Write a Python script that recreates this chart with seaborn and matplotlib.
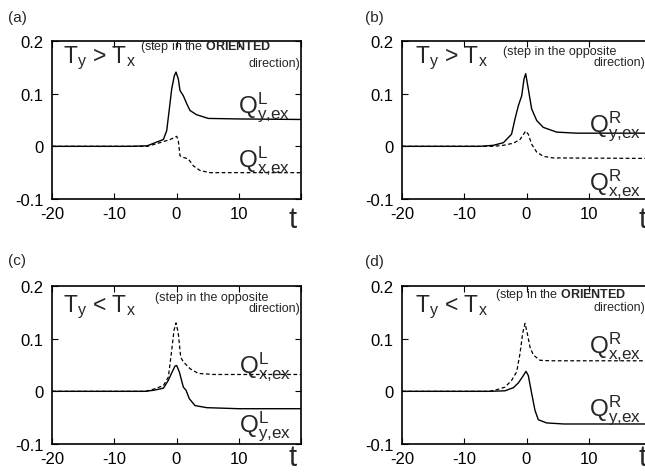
import matplotlib
matplotlib.use('Agg')
import matplotlib.pyplot as plt
import seaborn as sns

# ---- panel (a): T_y > T_x, step in the ORIENTED direction ----
t_a_y = [-20, -7.5, -4.7, -3.2, -2.1, -1.57, -1.15, -0.77, -0.35, -0.08, 0.29, 0.56, 1.1, 1.64, 2.17, 3.24, 5.1, 10, 20]
q_a_y = [0, 0, 0.001, 0.008, 0.013, 0.030, 0.071, 0.109, 0.134, 0.141, 0.128, 0.106, 0.096, 0.081, 0.068, 0.060, 0.053, 0.052, 0.051]
t_a_x = [-20, -4.7, -3.2, -2.1, -1.0, 0.03, 0.29, 0.56, 1.1, 1.9, 2.7, 3.8, 5.4, 20]
q_a_x = [0, 0, 0.005, 0.009, 0.013, 0.019, 0.011, -0.018, -0.021, -0.024, -0.037, -0.046, -0.050, -0.050]

# ---- panel (b): T_y > T_x, step in the opposite direction ----
t_b_y = [-20, -7.5, -5.3, -3.7, -2.4, -1.85, -1.31, -0.77, -0.4, -0.13, 0.29, 0.83, 1.64, 2.7, 4.85, 8, 20]
q_b_y = [0, 0, 0.002, 0.007, 0.023, 0.052, 0.077, 0.096, 0.128, 0.138, 0.109, 0.071, 0.049, 0.036, 0.027, 0.025, 0.025]
t_b_x = [-20, -5.3, -3.7, -2.1, -1.04, -0.13, 0.29, 0.83, 1.64, 2.7, 4.3, 20]
q_b_x = [0, 0, 0.002, 0.006, 0.013, 0.029, 0.023, 0.004, -0.011, -0.019, -0.022, -0.023]

# ---- panel (c): T_y < T_x, step in the opposite direction ----
t_c_y = [-20, -5, -3.7, -2.1, -1.31, -0.77, -0.24, 0.03, 0.45, 1.1, 1.53, 2.06, 2.97, 4.85, 10, 20]
q_c_y = [0, 0, 0.002, 0.006, 0.021, 0.035, 0.048, 0.049, 0.037, 0.008, 0.002, -0.014, -0.027, -0.031, -0.033, -0.033]
t_c_x = [-20, -5, -3.7, -2.1, -1.31, -0.77, -0.4, -0.08, 0.29, 0.67, 1.1, 2.17, 3.5, 6, 20]
q_c_x = [0, 0, 0.004, 0.011, 0.027, 0.078, 0.116, 0.130, 0.110, 0.065, 0.056, 0.043, 0.034, 0.032, 0.032]

# ---- panel (d): T_y < T_x, step in the ORIENTED direction ----
t_d_y = [-20, -6, -3.45, -2.1, -1.31, -0.5, -0.08, 0.29, 0.83, 1.36, 1.9, 3.24, 6, 20]
q_d_y = [0, 0, 0.001, 0.007, 0.016, 0.030, 0.038, 0.030, -0.004, -0.036, -0.054, -0.060, -0.062, -0.062]
t_d_x = [-20, -6, -4.8, -3.45, -2.38, -1.58, -1.04, -0.62, -0.24, 0.13, 0.56, 1.1, 2.17, 3.8, 20]
q_d_x = [0, 0, 0.003, 0.008, 0.021, 0.037, 0.072, 0.110, 0.129, 0.110, 0.084, 0.069, 0.059, 0.058, 0.058]

xticks = [-20, -10, 0, 10, 20]
xticklabels = ['-20', '-10', '0', '10', '']
yticks = [-0.1, 0, 0.1, 0.2]
yticklabels = ['-0.1', '0', '0.1', '0.2']

sns.set_style('ticks')
plt.rcParams['font.family'] = ['Liberation Sans', 'DejaVu Sans']
plt.rcParams['mathtext.fontset'] = 'custom'
plt.rcParams['mathtext.rm'] = 'Liberation Sans'
plt.rcParams['mathtext.it'] = 'Liberation Sans'
plt.rcParams['mathtext.bf'] = 'Liberation Sans:bold'
plt.rcParams['mathtext.default'] = 'regular'
plt.rcParams['axes.unicode_minus'] = False

W, H = 645, 477
fig = plt.figure(figsize=(W / 100, H / 100), dpi=100)


def px_axes(left, top, right, bottom):
    return fig.add_axes([left / W, 1 - bottom / H, (right - left) / W, (bottom - top) / H])


def draw_panel(ax, ty, qy, tx, qx, t_y):
    sns.lineplot(x=ty, y=qy, ax=ax, color='black', lw=1.0, estimator=None, sort=False)
    sns.lineplot(x=tx, y=qx, ax=ax, color='black', lw=0.9, linestyle=(0, (3, 2)),
                 estimator=None, sort=False)
    ax.set_xlim(-20, 20)
    ax.set_ylim(-0.1, 0.2)
    ax.set_xticks(xticks)
    ax.set_xticklabels(xticklabels)
    ax.set_yticks(yticks)
    ax.set_yticklabels(yticklabels)
    ax.tick_params(direction='in', length=4, width=0.8, labelsize=12, pad=5,
                   top=True, right=True, colors='black')
    ax.tick_params(axis='y', pad=6)
    for s in ax.spines.values():
        s.set_linewidth(1.2)
        s.set_color('black')
    ax.set_xlabel('')
    ax.set_ylabel('')
    ax.text(18.0, t_y, 't', transform=ax.get_xaxis_transform(), fontsize=21,
            ha='left', va='baseline')


ax_a = px_axes(52, 42, 301, 200)
ax_b = px_axes(402, 42, 651, 200)
ax_c = px_axes(52, 287, 301, 445)
ax_d = px_axes(402, 287, 651, 445)

draw_panel(ax_a, t_a_y, q_a_y, t_a_x, q_a_x, -0.175)
draw_panel(ax_b, t_b_y, q_b_y, t_b_x, q_b_x, -0.175)
draw_panel(ax_c, t_c_y, q_c_y, t_c_x, q_c_x, -0.135)
draw_panel(ax_d, t_d_y, q_d_y, t_d_x, q_d_x, -0.135)

big = 16.5
small = 9
qsize = 17.5

# (a)
ax_a.text(-18.3, 0.160, 'T$_y$ > T$_x$', fontsize=big, va='baseline')
ax_a.text(-5.9, 0.185, r'(step in the $\mathbf{ORIENTED}$', fontsize=small, va='baseline')
ax_a.text(19.9, 0.152, 'direction)', fontsize=small, va='baseline', ha='right')
ax_a.text(9.8, 0.065, r'$Q^{L}_{y{,}ex}$', fontsize=qsize, va='baseline')
ax_a.text(9.8, -0.038, r'$Q^{L}_{x{,}ex}$', fontsize=qsize, va='baseline')

# (b)
ax_b.text(-17.9, 0.160, 'T$_y$ > T$_x$', fontsize=big, va='baseline')
ax_b.text(-3.8, 0.176, '(step in the opposite', fontsize=small, va='baseline')
ax_b.text(10.7, 0.155, 'direction)', fontsize=small, va='baseline')
ax_b.text(10.0, 0.028, r'$Q^{R}_{y{,}ex}$', fontsize=qsize, va='baseline')
ax_b.text(10.0, -0.082, r'$Q^{R}_{x{,}ex}$', fontsize=qsize, va='baseline')

# (c)
ax_c.text(-18.3, 0.152, 'T$_y$ < T$_x$', fontsize=big, va='baseline')
ax_c.text(-3.45, 0.174, '(step in the opposite', fontsize=small, va='baseline')
ax_c.text(19.9, 0.153, 'direction)', fontsize=small, va='baseline', ha='right')
ax_c.text(10.0, 0.036, r'$Q^{L}_{x{,}ex}$', fontsize=qsize, va='baseline')
ax_c.text(10.0, -0.076, r'$Q^{L}_{y{,}ex}$', fontsize=qsize, va='baseline')

# (d)
ax_d.text(-17.9, 0.152, 'T$_y$ < T$_x$', fontsize=big, va='baseline')
ax_d.text(-5.06, 0.179, r'(step in the $\mathbf{ORIENTED}$', fontsize=small, va='baseline')
ax_d.text(10.7, 0.155, 'direction)', fontsize=small, va='baseline')
ax_d.text(10.0, 0.074, r'$Q^{R}_{x{,}ex}$', fontsize=qsize, va='baseline')
ax_d.text(10.0, -0.046, r'$Q^{R}_{y{,}ex}$', fontsize=qsize, va='baseline')

# panel letters
fig.text(8 / W, 1 - 22 / H, '(a)', fontsize=11, va='baseline')
fig.text(365 / W, 1 - 22 / H, '(b)', fontsize=11, va='baseline')
fig.text(8 / W, 1 - 265 / H, '(c)', fontsize=11, va='baseline')
fig.text(365 / W, 1 - 266 / H, '(d)', fontsize=11, va='baseline')

fig.savefig('out.png', dpi=100)
